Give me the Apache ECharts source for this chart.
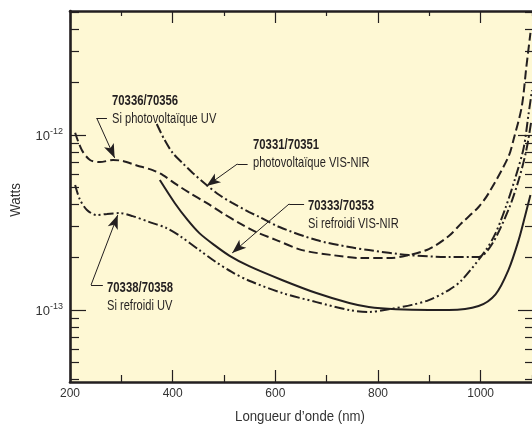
<!DOCTYPE html>
<html><head><meta charset="utf-8">
<script src="https://cdn.jsdelivr.net/npm/echarts@6/dist/echarts.min.js"></script>
<style>html,body{margin:0;padding:0;background:#fff}#c{width:532px;height:426px}</style>
</head><body><div id="c"></div>
<script>
// ---------- data ----------
const pvUV_nm  = [210,223,239,258,284,303,330,361,381,408,433,466,497,530,563,602,652,711,769,821,854,899,938,963,996,1016,1054,1064,1080,1089,1097];
const pvUV_W   = [1.03e-12,8.2e-13,7.2e-13,7.0e-13,7.2e-13,7.1e-13,6.7e-13,6.3e-13,5.9e-13,5.2e-13,4.67e-13,4.09e-13,3.58e-13,3.14e-13,2.79e-13,2.51e-13,2.2e-13,2.06e-13,1.98e-13,1.98e-13,2.04e-13,2.23e-13,2.65e-13,3.14e-13,3.88e-13,4.67e-13,7.5e-13,9.4e-13,1.45e-12,2.45e-12,3.83e-12];

const pvVIS_nm = [369,384,400,419,439,466,491,516,549,569,608,680,744,782,860,938,996,1021,1054,1074,1089,1099];
const pvVIS_W  = [1.156e-12,9.4e-13,7.9e-13,6.92e-13,6.07e-13,5.18e-13,4.54e-13,4.09e-13,3.63e-13,3.4e-13,2.98e-13,2.51e-13,2.29e-13,2.2e-13,2.06e-13,2.01e-13,2.01e-13,2.35e-13,3.73e-13,5.53e-13,8.2e-13,1.22e-12];

const coolVIS_nm = [375,404,429,452,482,511,549,614,680,744,782,835,899,938,996,1029,1054,1074,1087,1097];
const coolVIS_W  = [5.53e-13,4.09e-13,3.27e-13,2.75e-13,2.34e-13,2.04e-13,1.78e-13,1.48e-13,1.25e-13,1.096e-13,1.04e-13,1.01e-13,1.0e-13,1.0e-13,1.055e-13,1.23e-13,1.69e-13,2.51e-13,3.49e-13,4.54e-13];

const coolUV_nm = [210,219,233,252,272,297,322,355,388,414,452,482,515,549,614,680,744,782,821,866,899,938,963,1010,1029,1049,1068,1084,1093,1100];
const coolUV_W  = [5.18e-13,4.3e-13,3.73e-13,3.49e-13,3.54e-13,3.58e-13,3.44e-13,3.18e-13,2.94e-13,2.65e-13,2.2e-13,1.9e-13,1.65e-13,1.47e-13,1.25e-13,1.11e-13,1.0e-13,9.75e-14,1.01e-13,1.07e-13,1.14e-13,1.3e-13,1.48e-13,2.2e-13,2.75e-13,3.88e-13,5.75e-13,8.5e-13,1.3e-12,1.8e-12];

const seriesNames = ['70336/70356','70331/70351','70333/70353','70338/70358'];
const seriesSubtitles = ['Si photovoltaïque UV','photovoltaïque VIS-NIR','Si refroidi VIS-NIR','Si refroidi UV'];

// axis ranges and ticks
const X_MIN = 200, X_MAX = 1100;
const Y_MIN = 3.88e-14, Y_MAX = 5.11e-12;
const xLabelValues = [200,400,600,800,1000];
const xMajorTicks = [200,400,600,800,1000];
const xMinorTicks = [300,500,700,900,1100];
const yLabelValues = [1e-13,1e-12];
const yMajorTicks = [1e-13,1e-12];
const yMinorTicks = [4e-14,5e-14,6e-14,7e-14,8e-14,9e-14,2e-13,3e-13,4e-13,5e-13,6e-13,7e-13,8e-13,9e-13,2e-12,3e-12,4e-12,5e-12];

// leader lines (data coordinates): elbow end near text, elbow, arrow tip
const leaders = [
  [[272,1.25e-12],[252,1.25e-12],[287,7.4e-13]],
  [[546,6.83e-13],[526,6.83e-13],[466,5.11e-13]],
  [[656,4.04e-13],[627,4.04e-13],[516,2.12e-13]],
  [[264,1.39e-13],[241,1.39e-13],[293,3.49e-13]]
];
// ---------- styling ----------
const FONT = '"Liberation Sans",Arial,sans-serif';
const INK = '#231f20';
const zip = (a,b) => a.map((v,i)=>[v,b[i]]);
const L = Math.log10;

function markFor(i){
  const p = leaders[i];
  return {
    silent:true, animation:false,
    label:{show:false},
    lineStyle:{color:INK,width:1,type:'solid'},
    emphasis:{disabled:true},
    data:[
      [{coord:p[0],symbol:'none'},{coord:p[1],symbol:'none'}],
      [{coord:p[1],symbol:'none'},{coord:p[2],symbol:'arrow',symbolSize:[8,14]}]
    ]
  };
}
function lineSeries(name,nm,w,dash,i){
  return {
    name, type:'line', xAxisIndex:0, yAxisIndex:0,
    data: zip(nm,w), showSymbol:false, symbol:'none', smooth:0.3,
    lineStyle:{color:INK,width:2,type:dash,cap:'butt'},
    markLine: markFor(i), z:3
  };
}

const tickStyle = {color:INK,width:1.2};
const axisLineStyle = {show:true,onZero:false,lineStyle:{color:INK,width:2.6}};
function xAx(pos,ticks,len,line,labels){
  return {type:'value',min:X_MIN,max:X_MAX,position:pos,
    splitLine:{show:false},
    axisLine: line?axisLineStyle:{show:false,onZero:false},
    axisTick:{show:true,inside:true,length:len,customValues:ticks,lineStyle:tickStyle},
    axisLabel: labels?{show:true,customValues:labels,margin:6,color:'#333',fontSize:12,fontFamily:FONT,formatter:v=>String(v)}:{show:false}
  };
}
function yAx(pos,ticks,len,line,labels){
  return {type:'value',min:L(Y_MIN),max:L(Y_MAX),position:pos,
    splitLine:{show:false},
    axisLine: line?axisLineStyle:{show:false,onZero:false},
    axisTick:{show:true,inside:true,length:len,customValues:ticks.map(L),lineStyle:tickStyle},
    axisLabel: labels?{show:true,customValues:labels.map(L),margin:7,
      formatter:v=>'{b|10}{s|'+Math.round(v)+'}',
      rich:{b:{fontSize:13,fontFamily:FONT,color:'#333',lineHeight:16,verticalAlign:'bottom'},
            s:{fontSize:9,fontFamily:FONT,color:'#333',lineHeight:16,verticalAlign:'top'}}}:{show:false}
  };
}

const graphic = [];
const txtPos = [[112,101,119],[253,145,163],[308,206,224],[107,288,306]];
seriesNames.forEach((n,i)=>{
  const t = txtPos[i];
  graphic.push({type:'text',x:t[0],y:t[1],scaleX:0.755,style:{text:n,font:'bold 15px '+FONT,fill:INK,verticalAlign:'middle'},z:10});
  graphic.push({type:'text',x:t[0],y:t[2],scaleX:0.74,style:{text:seriesSubtitles[i],font:'15px '+FONT,fill:INK,verticalAlign:'middle'},z:10});
});
graphic.push({type:'text',x:300,y:417,scaleX:0.88,style:{text:'Longueur d’onde (nm)',font:'15px '+FONT,fill:'#333',align:'center',verticalAlign:'middle'}});
graphic.push({type:'text',x:16,y:200,rotation:Math.PI/2,scaleX:0.89,style:{text:'Watts',font:'15px '+FONT,fill:'#333',align:'center',verticalAlign:'middle'}});

const chart = echarts.init(document.getElementById('c'),null,{renderer:'canvas'});
chart.setOption({
  animation:false,
  backgroundColor:'#ffffff',
  grid:{left:70,top:11,width:464,height:371,show:true,backgroundColor:'#FEF8D4',borderWidth:0,containLabel:false},
  xAxis:[
    xAx('bottom',xMajorTicks,12,true,xLabelValues),
    xAx('bottom',xMinorTicks,7,false,null),
    xAx('top',xMajorTicks,12,true,null),
    xAx('top',xMinorTicks,5,false,null)
  ],
  yAxis:[
    {type:'log',min:Y_MIN,max:Y_MAX,show:false},
    yAx('left',yMajorTicks,16,true,yLabelValues),
    yAx('left',yMinorTicks,9,false,null),
    yAx('right',yMajorTicks,14,false,null),
    yAx('right',yMinorTicks,7,false,null)
  ],
  series:[
    lineSeries(seriesNames[0],pvUV_nm,pvUV_W,[9,4],0),
    lineSeries(seriesNames[1],pvVIS_nm,pvVIS_W,[10,3,2,3],1),
    lineSeries(seriesNames[2],coolVIS_nm,coolVIS_W,'solid',2),
    lineSeries(seriesNames[3],coolUV_nm,coolUV_W,[10,3,2,3,2,3],3)
  ],
  graphic
});
</script></body></html>
